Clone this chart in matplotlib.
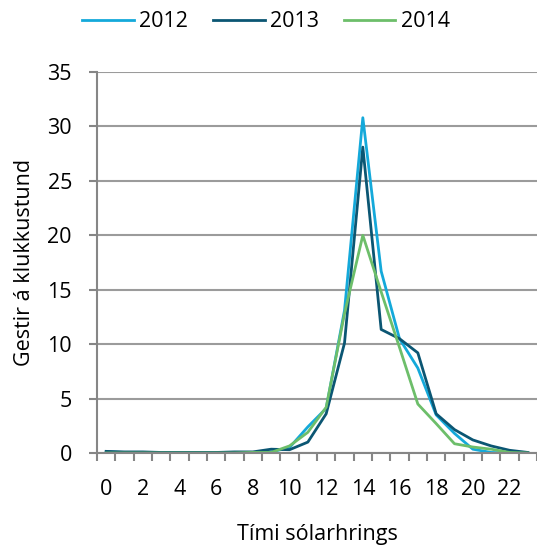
import matplotlib.pyplot as plt
import numpy as np

# Gestir á klukkustund eftir tíma sólarhrings
hours = list(range(24))
y2012 = [0.1, 0.05, 0.05, 0.05, 0.05, 0.05, 0.05, 0.05, 0.05, 0.1, 0.5, 2.4, 4.1, 13.1,
         30.8, 16.7, 10.5, 7.8, 3.5, 1.8, 0.35, 0.05, 0.0, 0.0]
y2013 = [0.15, 0.1, 0.1, 0.05, 0.05, 0.05, 0.05, 0.1, 0.1, 0.35, 0.3, 1.0, 3.6, 10.1,
         28.1, 11.35, 10.5, 9.2, 3.6, 2.15, 1.2, 0.65, 0.25, 0.05]
y2014 = [0.0, 0.0, 0.0, 0.0, 0.0, 0.0, 0.0, 0.0, 0.05, 0.05, 0.65, 1.9, 4.2, 12.8,
         20.0, 14.8, 9.7, 4.5, 2.7, 0.85, 0.55, 0.35, 0.05, 0.0]
series = {'2012': y2012, '2013': y2013, '2014': y2014}
colors = {'2012': '#14A9DA', '2013': '#0B5673', '2014': '#6DBE6A'}
xtick_labels = [str(h) for h in range(0, 24, 2)]

plt.rcParams['font.family'] = ['Open Sans', 'DejaVu Sans']
fs = 15.5
W, H = 537, 547
fig = plt.figure(figsize=(W/100, H/100), dpi=100)
ax = fig.add_axes([97/W, 1-453/H, (537-97)/W, (453-72)/H])

for name, vals in series.items():
    ax.plot(hours, vals, color=colors[name], lw=2, label=name)

ax.set_xlim(-0.5, 23.5)
ax.set_ylim(0, 35)
ax.set_yticks(range(0, 36, 5))
ax.set_xticks(range(0, 24, 2))
ax.set_xticklabels(xtick_labels)
ax.set_xticks(np.arange(-0.5, 24, 1), minor=True)
ax.tick_params(axis='x', which='major', length=0, pad=19, labelsize=fs)
ax.tick_params(axis='x', which='minor', length=6, width=1.5, color='#868686')
ax.tick_params(axis='y', length=6, width=1.5, color='#868686', labelsize=fs, pad=12)
ax.grid(axis='y', color='#9B9B9B', lw=1.5)
ax.set_axisbelow(True)
for s in ['top', 'right']:
    ax.spines[s].set_visible(False)
for s in ['left', 'bottom']:
    ax.spines[s].set_color('#868686')
    ax.spines[s].set_linewidth(1.5)

ax.set_xlabel('Tími sólarhrings', fontsize=fs, labelpad=17)
ax.set_ylabel('Gestir á klukkustund', fontsize=fs, labelpad=9)
ax.legend(loc='upper center', bbox_to_anchor=(266/W, 1+8/H), bbox_transform=fig.transFigure,
          ncol=3, frameon=False, fontsize=fs, handlelength=2.4, handletextpad=0.25,
          columnspacing=1.15)

fig.savefig('out.png', dpi=100)
